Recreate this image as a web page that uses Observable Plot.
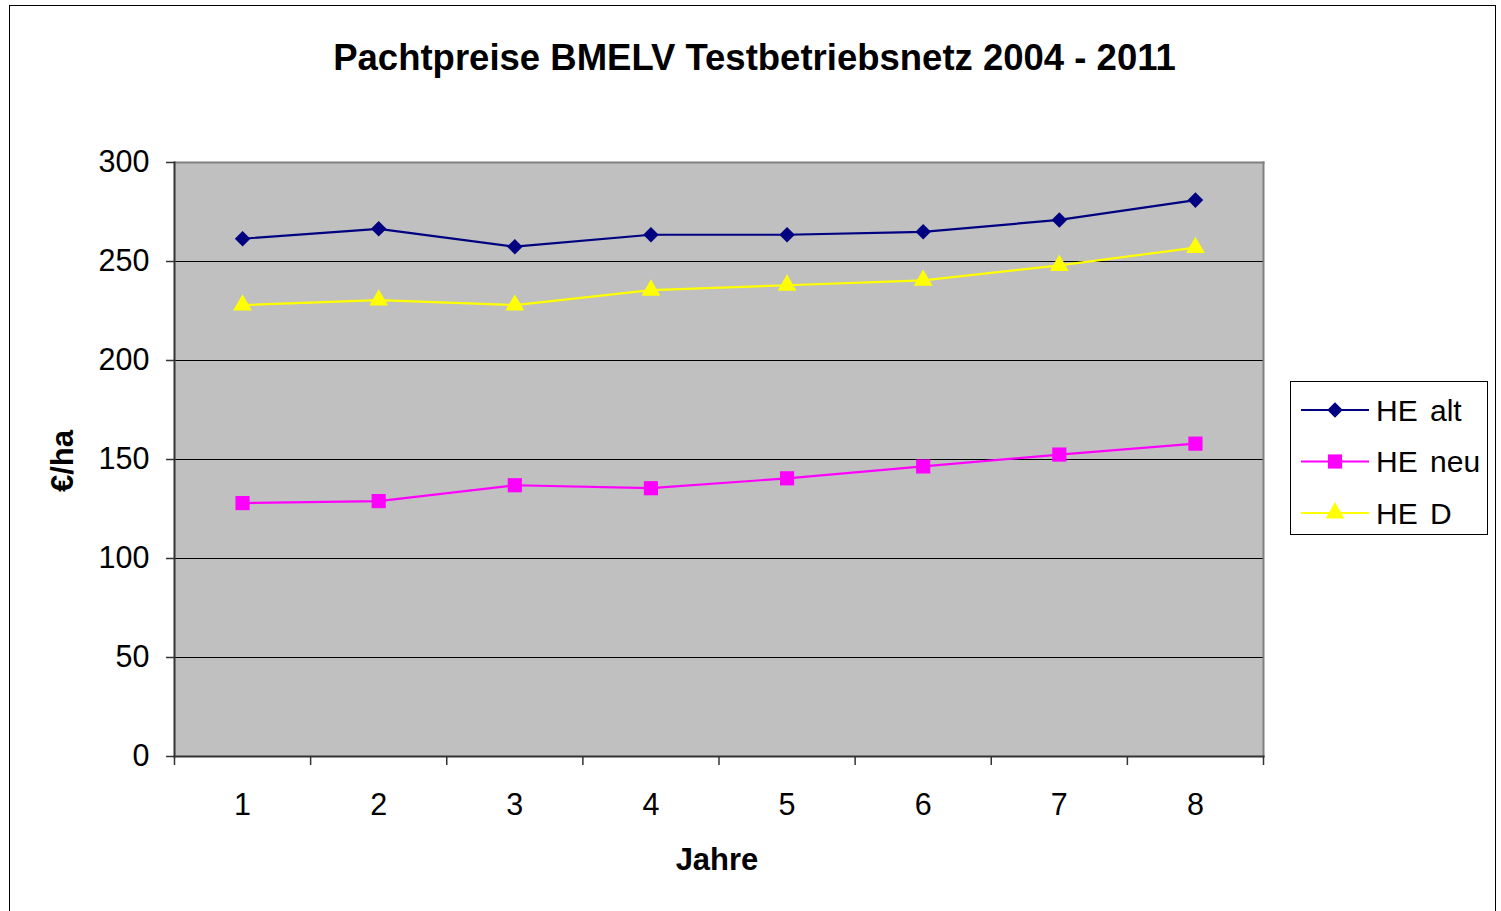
<!DOCTYPE html>
<html><head><meta charset="utf-8">
<script src="https://cdn.jsdelivr.net/npm/d3@7"></script>
<script src="https://cdn.jsdelivr.net/npm/@observablehq/plot@0.6"></script>
<style>
body{margin:0;background:#fff;font-family:"Liberation Sans",Arial,sans-serif;}
#wrap{position:relative;width:1501px;height:911px;overflow:hidden;background:#fff}
#border{position:absolute;left:9px;top:5px;width:1487px;height:920px;border:1.5px solid #000;box-sizing:border-box}
#title{position:absolute;left:0;width:1509px;top:37px;text-align:center;font-weight:bold;font-size:36.5px;color:#000;white-space:nowrap}
#ylab{position:absolute;left:63px;top:461px;transform:translate(-50%,-50%) rotate(-90deg);font-weight:bold;font-size:31px;white-space:nowrap}
#xlab{position:absolute;left:717px;top:860px;transform:translate(-50%,-50%);font-weight:bold;font-size:31px}
#legend{position:absolute;left:1290px;top:381px;width:198px;height:154px;border:1.5px solid #000;box-sizing:border-box;background:#fff}
#chart{position:absolute;left:0;top:0}
</style></head><body>
<div id="wrap">
<div id="border"></div>
<div id="chart"></div>
<div id="title"></div>
<div id="ylab"></div>
<div id="xlab"></div>
<div id="legend"></div>
</div>
<script>
const titleText = "Pachtpreise BMELV Testbetriebsnetz 2004 - 2011";
const yLabel = "€/ha";
const xLabel = "Jahre";
const years = [1,2,3,4,5,6,7,8];
const heAlt = [261.5,266.5,257.5,263.5,263.5,265,271,281];
const heNeu = [128,129,137,135.5,140.5,146.5,152.5,158];
const heD   = [228,230.5,228,235.5,238,240.5,248,257];
const seriesNames = ["HE alt","HE neu","HE D"];
const seriesColors = ["#000080","#FF00FF","#FFFF00"];
const seriesSymbols = ["diamond2","square","triangle"];
const yTicks = [0,50,100,150,200,250,300];
const gridTicks = [50,100,150,200,250];

document.getElementById("title").textContent = titleText;
document.getElementById("ylab").textContent = yLabel;
document.getElementById("xlab").textContent = xLabel;

const seriesValues = [heAlt, heNeu, heD];
const data = seriesNames.flatMap((s,i) => years.map((y,j) => ({series:s, year:y, value:seriesValues[i][j]})));
const bounds = d3.range(0, years.length + 1).map(i => years[0] - 0.5 + i);

const symbolR = [7, 8, 7];

const chart = Plot.plot({
  width:1501, height:911,
  marginLeft:174, marginRight:238, marginTop:162, marginBottom:155,
  style:{fontFamily:"Liberation Sans, Arial, sans-serif", background:"transparent"},
  x:{type:"linear", domain:[bounds[0], bounds[bounds.length-1]]},
  y:{domain:[0,300]},
  color:{domain:seriesNames, range:seriesColors},
  symbol:{domain:seriesNames, range:seriesSymbols},
  marks:[
    Plot.frame({fill:"#c0c0c0", stroke:null}),
    Plot.ruleY(gridTicks, {stroke:"#000", strokeWidth:1}),
    Plot.frame({anchor:"top", stroke:"#808080", strokeWidth:2}),
    Plot.frame({anchor:"right", stroke:"#808080", strokeWidth:2}),
    Plot.frame({anchor:"left", stroke:"#333", strokeWidth:2}),
    Plot.frame({anchor:"bottom", stroke:"#333", strokeWidth:2}),
    Plot.axisY({ticks:yTicks, tickSize:8, tickPadding:17, fontSize:30.5, label:null, stroke:"#333", strokeWidth:1.5, fill:"#000"}),
    Plot.axisX({ticks:bounds, tickSize:9, tickFormat:() => "", label:null, stroke:"#333", strokeWidth:1.5}),
    Plot.axisX({ticks:years, tickSize:0, tickPadding:37, fontSize:30.5, label:null, fill:"#000", tickFormat:d => String(d)}),
    Plot.line(data, {x:"year", y:"value", z:"series", stroke:"series", strokeWidth:2.2}),
    ...seriesNames.map((s,i) => Plot.dot(data.filter(d => d.series === s), {x:"year", y:"value", symbol:seriesSymbols[i], fill:seriesColors[i], stroke:null, r:symbolR[i]}))
  ]
});
document.getElementById("chart").appendChild(chart);

// legend
const lg = d3.select("#legend").append("svg").attr("width",198).attr("height",154);
const legSyms = [d3.symbolDiamond2, d3.symbolSquare, d3.symbolTriangle];
seriesNames.forEach((s,i) => {
  const cy = 28 + i*51.5;
  lg.append("line").attr("x1",10).attr("x2",78).attr("y1",cy).attr("y2",cy).attr("stroke",seriesColors[i]).attr("stroke-width",2.2);
  const sym = d3.symbol().type(legSyms[i]).size(Math.PI*symbolR[i]*symbolR[i]);
  lg.append("path").attr("d",sym()).attr("transform",`translate(44,${cy})`).attr("fill",seriesColors[i]);
  lg.append("text").attr("x",85).attr("y",cy).attr("dy","0.36em").attr("font-size",30).attr("word-spacing","4px").attr("font-family","Liberation Sans, Arial, sans-serif").text(s);
});
</script>
</body></html>
